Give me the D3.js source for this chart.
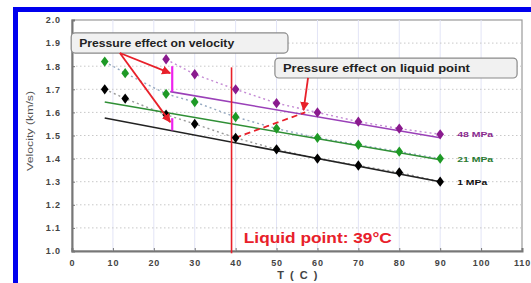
<!DOCTYPE html>
<html><head><meta charset="utf-8">
<script src="https://cdn.jsdelivr.net/npm/d3@7"></script>
<style>body{margin:0;background:#fff}svg{display:block}</style>
</head><body>
<svg id="c" width="531" height="283"></svg>
<script>
// ---- data ----
const xTicks = [0,10,20,30,40,50,60,70,80,90,100,110];
const yTicks = [1.0,1.1,1.2,1.3,1.4,1.5,1.6,1.7,1.8,1.9,2.0];
const tempsLow = [8,13,23,30,40,50,60,70,80,90];
const vel1MPa = [1.70,1.66,1.59,1.55,1.49,1.44,1.40,1.37,1.34,1.30];
const vel21MPa = [1.82,1.77,1.68,1.645,1.58,1.53,1.49,1.46,1.43,1.40];
const tempsHigh = [23,30,40,50,60,70,80,90];
const vel48MPa = [1.83,1.765,1.70,1.64,1.60,1.56,1.53,1.505];
const fit1MPa = [[8,1.576],[90,1.30]];
const fit21MPa = [[8,1.645],[90,1.395]];
const fit48MPa = [[24,1.69],[90,1.49]];
const seriesNames = ["1 MPa","21 MPa","48 MPa"];
const liquidPoint = 39;

const FONT = "Liberation Sans, Arial, sans-serif";
const svg = d3.select("#c");
const x = d3.scaleLinear().domain([0,110]).range([72,522]);
const y = d3.scaleLinear().domain([1,2]).range([251,20]);

// blue frame
svg.append("rect").attr("x",13).attr("y",7).attr("width",518).attr("height",5).attr("fill","#0000ee");
svg.append("rect").attr("x",13).attr("y",7).attr("width",5).attr("height",276).attr("fill","#0000ee");

// plot bg + grid
svg.append("rect").attr("x",x(0)).attr("y",y(2)).attr("width",x(110)-x(0)).attr("height",y(1)-y(2)).attr("fill","#fff").attr("stroke","#999").attr("stroke-width",1.2);
svg.append("g").selectAll("line").data(xTicks.slice(1,-1)).join("line")
  .attr("x1",d=>x(d)).attr("x2",d=>x(d)).attr("y1",y(1)).attr("y2",y(2))
  .attr("stroke","#e2e4f6").attr("stroke-width",1);
svg.append("g").selectAll("line").data(yTicks.slice(1,-1)).join("line")
  .attr("x1",x(0)).attr("x2",x(110)).attr("y1",d=>y(d)).attr("y2",d=>y(d))
  .attr("stroke","#c8c8c8").attr("stroke-width",1).attr("stroke-dasharray","1.5,2.5");

// axes
const xa = svg.append("g").attr("transform",`translate(0,${y(1)})`)
  .call(d3.axisBottom(x).tickValues(xTicks).tickSize(-3).tickPadding(9).tickFormat(d3.format("d")));
const ya = svg.append("g").attr("transform",`translate(${x(0)},0)`)
  .call(d3.axisLeft(y).tickValues(yTicks).tickSize(-3).tickPadding(11).tickFormat(d3.format(".1f")));
[xa,ya].forEach(a=>{
  a.select(".domain").attr("stroke","#777").attr("stroke-width",2);
  a.selectAll(".tick line").attr("stroke","#777");
  a.selectAll("text").attr("font-family",FONT).attr("font-weight","bold").attr("font-size",9).attr("letter-spacing",0.9).attr("fill","#444");
});

// axis labels
svg.append("text").attr("x",298).attr("y",279).attr("text-anchor","middle")
  .attr("font-family",FONT).attr("font-weight","bold").attr("font-size",11).attr("letter-spacing",1.5).attr("fill","#444").text("T ( C )");
svg.append("text").attr("transform",`translate(33,${y(1.52)}) rotate(-90)`).attr("text-anchor","middle")
  .attr("font-family",FONT).attr("font-size",9.5).attr("textLength",80).attr("lengthAdjust","spacingAndGlyphs").attr("fill","#555").text("Velocity (km/s)");

const line = d3.line().x(d=>x(d[0])).y(d=>y(d[1]));
const series = [
  {name:seriesNames[0], t:tempsLow, v:vel1MPa, fit:fit1MPa, col:"#000", fitCol:"#222", dotCol:"#9a9a9a", lab:"#111", w:30},
  {name:seriesNames[1], t:tempsLow, v:vel21MPa, fit:fit21MPa, col:"#1e9a26", fitCol:"#2f8f35", dotCol:"#94a8c0", lab:"#2a7a30", w:36},
  {name:seriesNames[2], t:tempsHigh, v:vel48MPa, fit:fit48MPa, col:"#8a1a8e", fitCol:"#9a40b8", dotCol:"#c48ad4", lab:"#8a2a8e", w:36}
];
series.forEach(s=>{
  const pts = s.t.map((t,i)=>[t,s.v[i]]);
  svg.append("path").attr("d",line(pts)).attr("fill","none").attr("stroke",s.dotCol).attr("stroke-width",1.4).attr("stroke-dasharray","2,3");
  svg.append("path").attr("d",line(s.fit)).attr("fill","none").attr("stroke",s.fitCol).attr("stroke-width",1.6);
});

// red annotations
const red = "#e8202a";
const defs = svg.append("defs");
defs.append("marker").attr("id","ah").attr("viewBox","0 0 10 10").attr("refX",9).attr("refY",5)
  .attr("markerWidth",5).attr("markerHeight",5).attr("orient","auto-start-reverse")
  .append("path").attr("d","M0,0L10,5L0,10z").attr("fill",red);

svg.append("line").attr("x1",x(liquidPoint)).attr("x2",x(liquidPoint)).attr("y1",y(1.795)).attr("y2",y(0.99))
  .attr("stroke",red).attr("stroke-width",1.6);
svg.append("path").attr("d",line([[39.9,1.49],[57,1.60]])).attr("stroke",red).attr("stroke-width",1.8).attr("stroke-dasharray","6,4").attr("fill","none");

// magenta bars
[[1.69,1.80],[1.522,1.575]].forEach(b=>{
  svg.append("line").attr("x1",x(24.5)).attr("x2",x(24.5)).attr("y1",y(b[0])).attr("y2",y(b[1]))
    .attr("stroke","#ee22ee").attr("stroke-width",2.2);
});

// markers
series.forEach(s=>{
  svg.append("g").selectAll("path").data(s.t.map((t,i)=>[t,s.v[i]])).join("path")
    .attr("d",d3.symbol(d3.symbolDiamond,38)).attr("transform",d=>`translate(${x(d[0])},${y(d[1])}) scale(1.15,0.9)`)
    .attr("fill",s.col);
  const last = s.fit[1];
  svg.append("text").attr("x",x(last[0])+17).attr("y",y(s.v[s.v.length-1])+3)
    .attr("font-family",FONT).attr("font-weight","bold").attr("font-size",8)
    .attr("textLength",s.w).attr("lengthAdjust","spacingAndGlyphs")
    .attr("fill",s.lab).text(s.name);
});

// boxes
function box(t0,t1,v0,v1,label,len){
  svg.append("rect").attr("x",x(t0)).attr("y",y(v1)).attr("width",x(t1)-x(t0)).attr("height",y(v0)-y(v1))
    .attr("rx",4).attr("fill","#f1f1f1").attr("stroke","#8a8a8a").attr("stroke-width",1.2);
  svg.append("text").attr("x",x(t0)+8).attr("y",(y(v0)+y(v1))/2+3.8)
    .attr("font-family",FONT).attr("font-weight","bold").attr("font-size",10.5)
    .attr("textLength",len).attr("lengthAdjust","spacingAndGlyphs").attr("fill","#222").text(label);
}
box(-0.2,52.8,1.857,1.944,"Pressure effect on velocity",155);
box(49.6,108.8,1.749,1.835,"Pressure effect on liquid point",187);

// arrows
[[[11.7,1.857],[24,1.77]],[[11.7,1.857],[24,1.558]],[[57.7,1.749],[56.6,1.61]]].forEach(a=>{
  svg.append("path").attr("d",line(a)).attr("stroke",red).attr("stroke-width",1.8).attr("fill","none").attr("marker-end","url(#ah)");
});

svg.append("text").attr("x",x(42)).attr("y",y(1.035)).attr("font-family",FONT)
  .attr("font-weight","bold").attr("font-size",15).attr("textLength",148).attr("lengthAdjust","spacingAndGlyphs")
  .attr("fill",red).text("Liquid point: 39°C");
</script>
</body></html>
